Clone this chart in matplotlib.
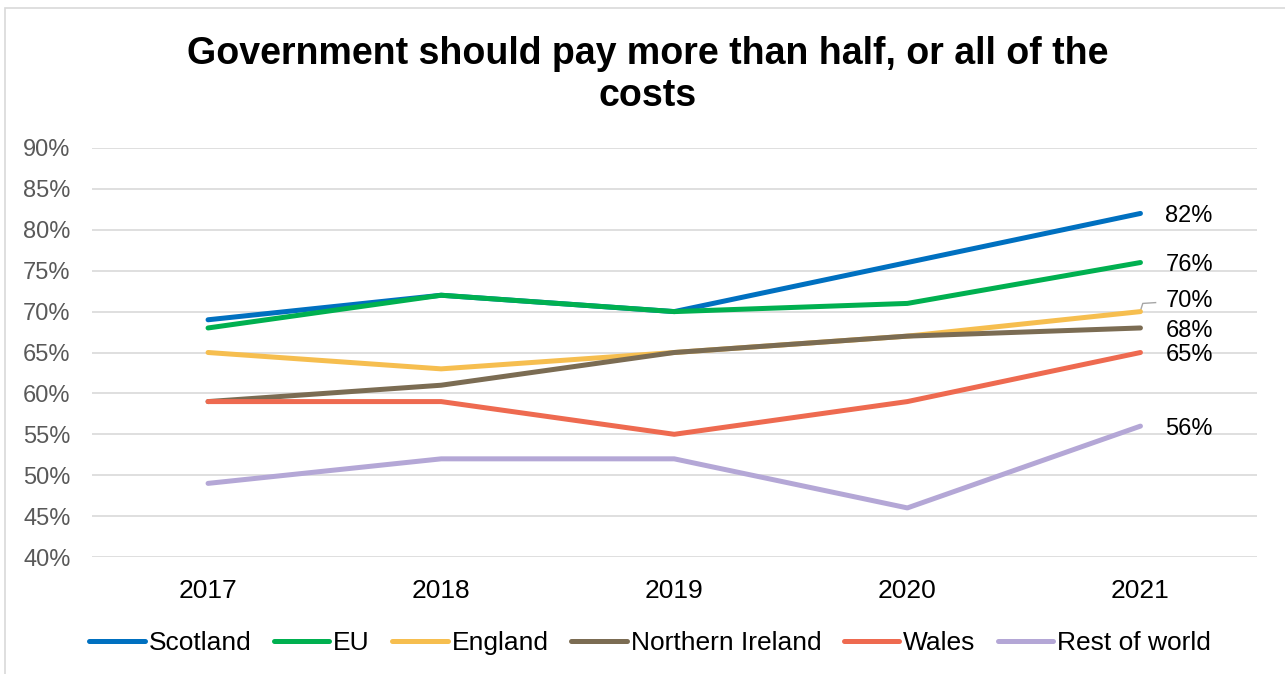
import numpy as np
import matplotlib.pyplot as plt
from matplotlib.patches import Rectangle

plt.rcParams['font.family'] = ['Liberation Sans', 'DejaVu Sans']

years = ['2017', '2018', '2019', '2020', '2021']
regions = ['Scotland', 'EU', 'England', 'Northern Ireland', 'Wales', 'Rest of world']
scotland = [69, 72, 70, 76, 82]
eu = [68, 72, 70, 71, 76]
england = [65, 63, 65, 67, 70]
n_ireland = [59, 61, 65, 67, 68]
wales = [59, 59, 55, 59, 65]
rest_of_world = [49, 52, 52, 46, 56]
colours = ['#0070C0', '#00B050', '#F6BE4F', '#7B6C53', '#EE6A50', '#B4A7D6']

series = [scotland, eu, england, n_ireland, wales, rest_of_world]

fig = plt.figure(figsize=(12.85, 6.74), dpi=100)
ax = fig.add_axes([91.5 / 1285, 1 - 557 / 674, (1257 - 91.5) / 1285, (557 - 148) / 674])

x = np.arange(len(years))
for vals, name, col in zip(series, regions, colours):
    ax.plot(x, vals, color=col, lw=3.6, solid_capstyle='round', label=name, zorder=3)

# end-of-line value labels (70% nudged up with a leader line)
label_offsets = {'England': 7.5}
for vals, name in zip(series, regions):
    dy = label_offsets.get(name, -2)
    ax.annotate(f'{vals[-1]}%', xy=(x[-1], vals[-1]), xytext=(18, dy),
                textcoords='offset points', va='center', ha='left',
                fontsize=17, color='black')
ax.plot([x[-1], x[-1] + 0.01, x[-1] + 0.065], [england[-1] + 0.1, 71.0, 71.1],
        color='#A6A6A6', lw=1, zorder=2)

ax.set_xlim(-0.5, len(years) - 0.5)
ax.set_ylim(40, 90)
ax.set_yticks(np.arange(40, 91, 5))
ax.set_yticklabels([f'{v}%' for v in range(40, 91, 5)], fontsize=17, color='#595959')
ax.set_xticks(x)
ax.set_xticklabels(years, fontsize=19, color='black')
ax.tick_params(length=0)
ax.tick_params(axis='x', pad=16)
ax.tick_params(axis='y', pad=15)
ax.grid(axis='y', color='#D9D9D9', lw=1.2)
ax.set_axisbelow(True)
for s in ax.spines.values():
    s.set_visible(False)

fig.text(0.504, 1 - 75 / 674, 'Government should pay more than half, or all of the\ncosts',
         ha='center', va='center', fontsize=27, fontweight='bold', linespacing=1.2)

fig.legend(loc='center', bbox_to_anchor=(0.506, 1 - 643 / 674), ncol=6, frameon=False,
           fontsize=19, handlelength=2.1, handletextpad=0.15, columnspacing=0.85)

fig.patches.append(Rectangle((5 / 1285, -0.1), 1.2, 1 - 8.5 / 674 + 0.1,
                             transform=fig.transFigure, fill=False,
                             edgecolor='#D9D9D9', lw=1.2))

fig.savefig('out.png', dpi=100)
